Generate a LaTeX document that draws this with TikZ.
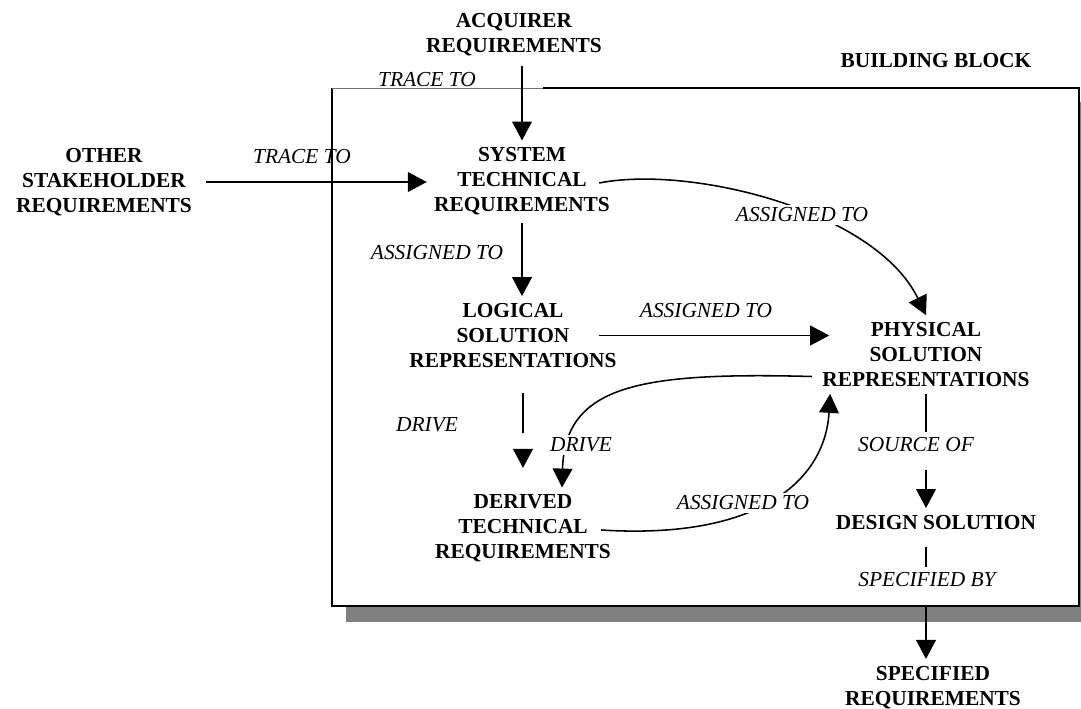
\documentclass[tikz,border=0pt]{standalone}
\usepackage{fontspec}
\setmainfont{Liberation Serif}
\usetikzlibrary{arrows.meta}

\begin{document}
\begin{tikzpicture}[x=0.025cm, y=-0.025cm,
  block/.style={align=center, inner sep=5pt, font=\bfseries\fontsize{15.2}{17.7}\selectfont},
  tag/.style={inner sep=2pt, font=\itshape\fontsize{15.2}{17.7}\selectfont},
  tagw/.style={tag, fill=white},
  arr/.style={-{Triangle[length=13.5pt,width=14pt]}, line width=1.4pt},
  curvy/.style={arr, line width=1.1pt}]
\useasboundingbox (0,0) rectangle (1081,709);
% building block frame with its shadow
\fill[black!50] (346,102) rectangle (1096,622);
\fill[white] (332,88) rectangle (1079,606);
\draw[line width=1.3pt] (543,88) -- (1079,88) -- (1079,606) -- (332,606) -- (332,88);
\draw[black!55, line width=0.6pt] (332,88) -- (543,88);
\node[block] (title) at (936,61) {BUILDING BLOCK};

% requirement and solution blocks
\node[block] (acq) at (514,35) {ACQUIRER\\REQUIREMENTS};
\node[block] (other) at (104,182) {OTHER\\STAKEHOLDER\\REQUIREMENTS};
\node[block] (sys) at (522,181.5) {SYSTEM\\TECHNICAL\\REQUIREMENTS};
\node[block] (logical) at (513,335.5) {LOGICAL\\SOLUTION\\REPRESENTATIONS};
\node[block] (physical) at (926,354.5) {PHYSICAL\\SOLUTION\\REPRESENTATIONS};
\node[block] (derived) at (523,528.5) {DERIVED\\TECHNICAL\\REQUIREMENTS};
\node[block] (design) at (936,522.5) {DESIGN SOLUTION};
\node[block] (spec) at (933,687.5) {SPECIFIED\\REQUIREMENTS};

% straight links
\draw[arr, shorten <=1.5pt] (sys |- acq.south) -- (sys);
\draw[arr, shorten <=5pt] (other.east) -- (other.east -| sys.west);
\draw[arr] (sys) -- (sys |- logical.north);
\draw[arr, shorten <=13pt, shorten >=14pt, dash pattern=on 28.4pt off 14.2pt] (derived |- logical.south) -- (derived);
\draw[arr, shorten <=-18pt, shorten >=-10pt] (logical.east) -- (logical.east -| physical.west);
\draw[arr, dash pattern=on 27pt off 27pt on 60pt] (physical) -- (physical |- design.north);
\draw[arr, shorten <=7pt, dash pattern=on 14.2pt off 28.4pt on 60pt] (physical |- design.south) -- (physical |- spec.north);

% curved links
\draw[curvy] ([shift={(-18,1.5)}]sys.east) .. controls (690,165) and (875,210) .. (physical.north);
\draw[curvy] ([shift={(-3,22)}]physical.west) .. controls (640,372) and (565,385) .. ([shift={(39,0)}]derived.north);
\draw[curvy] ([shift={(-17,1.5)}]derived.east) .. controls (760,540) and (825,480) .. ([shift={(15,0)}]physical.south west);

% link labels
\node[tag] (trace1) at (427,80) {TRACE TO};
\node[tag] (trace2) at (302,157) {TRACE TO};
\node[tag] (assign1) at (437,253) {ASSIGNED TO};
\node[tagw] (assign2) at (802,215) {ASSIGNED TO};
\node[tag] (assign3) at (706,311) {ASSIGNED TO};
\node[tag] (drive1) at (427,425) {DRIVE};
\node[tagw] (drive2) at (581,445) {DRIVE};
\node[tagw] (assign4) at (743,503) {ASSIGNED TO};
\node[tag] (source) at (916,445) {SOURCE OF};
\node[tag] (specby) at (927,580) {SPECIFIED BY};
\end{tikzpicture}
\end{document}
